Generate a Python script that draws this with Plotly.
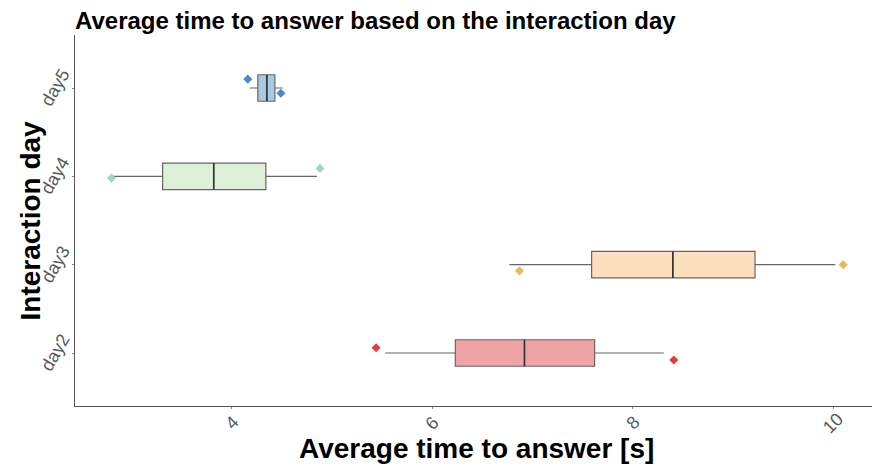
import plotly.graph_objects as go

# Interaction days (bottom to top) and box statistics in seconds
days = ["day2", "day3", "day4", "day5"]
q1 = [6.23, 7.59, 3.31, 4.26]
median = [6.92, 8.40, 3.82, 4.35]
q3 = [7.62, 9.22, 4.34, 4.43]
whisker_low = [5.53, 6.77, 2.80, 4.18]
whisker_high = [8.31, 10.02, 4.85, 4.51]

# Individual jittered observations per day
points_x = [[5.44, 8.41], [6.87, 10.10], [2.80, 4.88], [4.16, 4.49]]
jitter_y = [[0.06, -0.08], [-0.07, 0.0], [-0.02, 0.09], [0.10, -0.06]]

x_ticks = [4, 6, 8, 10]

fill_colors = ["#efa3a4", "#fddfbe", "#dff0da", "#a6cae2"]
point_colors = ["#e43b3b", "#e8ba5e", "#9adcb8", "#4f88d1"]

BOX_W = 0.3
FONT = "Liberation Sans, Arial, sans-serif"

fig = go.Figure()
for i, day in enumerate(days):
    fig.add_trace(go.Box(
        y=[i], q1=[q1[i]], median=[median[i]], q3=[q3[i]],
        lowerfence=[whisker_low[i]], upperfence=[whisker_high[i]],
        orientation="h", width=BOX_W, whiskerwidth=0,
        fillcolor=fill_colors[i],
        line=dict(color="#666666", width=1.2),
        boxpoints=False, showlegend=False, name=day,
    ))
    # darker median stroke
    fig.add_trace(go.Scatter(
        x=[median[i], median[i]], y=[i - BOX_W / 2, i + BOX_W / 2],
        mode="lines", line=dict(color="#333333", width=1.6),
        showlegend=False, hoverinfo="skip",
    ))
    fig.add_trace(go.Scatter(
        x=points_x[i], y=[i + j for j in jitter_y[i]],
        mode="markers",
        marker=dict(symbol="diamond", size=7, color=point_colors[i]),
        showlegend=False, hoverinfo="x",
    ))

tick_font = dict(family=FONT, size=18, color="#595959")

annotations = [
    dict(text="<b>Average time to answer [s]</b>", xref="paper", yref="paper",
         x=(476 - 75) / 797, y=-43 / 371, xanchor="center", yanchor="middle",
         showarrow=False, font=dict(family=FONT, size=28, color="black")),
    dict(text="<b>Interaction day</b>", xref="paper", yref="paper",
         x=(30 - 75) / 797, y=0.5, xanchor="center", yanchor="middle",
         textangle=-90, showarrow=False, font=dict(family=FONT, size=28, color="black")),
]
# rotated tick labels, centred on their ticks
for v in x_ticks:
    annotations.append(dict(
        text=str(v), x=v, xref="x", y=0, yref="paper", yshift=-17,
        showarrow=False, textangle=-45, font=tick_font,
        xanchor="center", yanchor="middle"))
for i, day in enumerate(days):
    annotations.append(dict(
        text=day, x=0, xref="paper", xshift=-20, y=i, yref="y",
        showarrow=False, textangle=-60, font=tick_font,
        xanchor="center", yanchor="middle"))

fig.update_layout(
    width=872, height=471,
    margin=dict(l=75, r=0, t=35, b=65),
    paper_bgcolor="white", plot_bgcolor="white",
    title=dict(
        text="<b>Average time to answer based on the interaction day</b>",
        font=dict(family=FONT, size=24, color="black"),
        x=75 / 872, xanchor="left", xref="container",
        y=1 - 21 / 471, yanchor="middle", yref="container",
    ),
    xaxis=dict(
        range=[2.436, 10.387], tickvals=x_ticks, showticklabels=False,
        showgrid=False, zeroline=False,
        showline=True, linecolor="#555555", linewidth=1.2,
        ticks="outside", ticklen=2, tickcolor="#888888",
    ),
    yaxis=dict(
        range=[-0.6, 3.6], tickvals=list(range(len(days))), showticklabels=False,
        showgrid=False, zeroline=False,
        showline=True, linecolor="#555555", linewidth=1.2,
        ticks="outside", ticklen=2, tickcolor="#888888",
    ),
    annotations=annotations,
)

fig.write_html("out.html")
